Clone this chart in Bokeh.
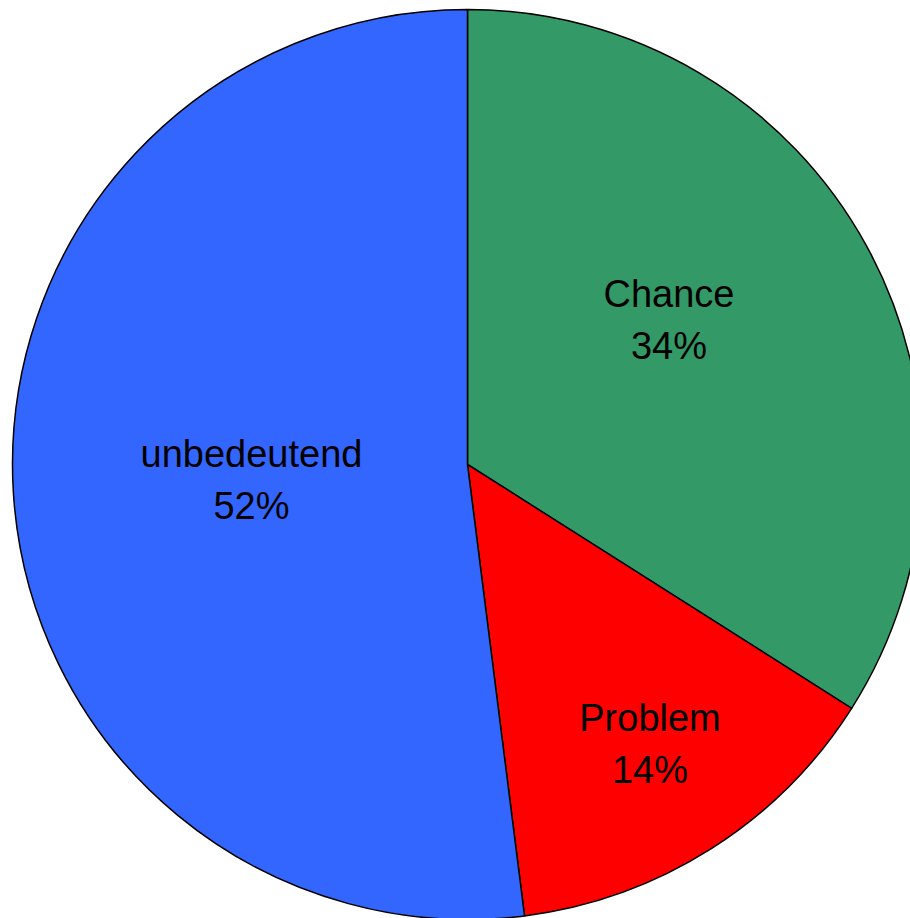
import math

from bokeh.core.properties import value
from bokeh.embed import file_html
from bokeh.models import ColumnDataSource, Range1d
from bokeh.plotting import figure
from bokeh.resources import INLINE

# Share of answers per category (percent), in drawing order clockwise from 12 o'clock
categories = ["Chance", "Problem", "unbedeutend"]
shares = [34, 14, 52]
colors = ["#339966", "#FF0000", "#3366FF"]

W, H = 910, 918

# Pie geometry in screen pixels (y measured downward from the top)
CX, CY, R = 467, 464, 455
# Label block centres (screen pixels) and spacing between the two text lines
label_pos = [(668.5, 319), (649.5, 743.5), (251, 479)]
LINE_GAP = 26

total = float(sum(shares))
starts, ends = [], []
cum = 0.0
for s in shares:
    starts.append(math.pi / 2 - 2 * math.pi * cum / total)
    cum += s
    ends.append(math.pi / 2 - 2 * math.pi * cum / total)

wedges = ColumnDataSource(dict(
    x=[CX] * len(shares),
    y=[H - CY] * len(shares),
    start=starts,
    end=ends,
    color=colors,
))

p = figure(
    width=W, height=H,
    x_range=Range1d(0, W), y_range=Range1d(0, H),
    output_backend="svg", toolbar_location=None,
    min_border=0, min_border_left=0, min_border_right=0,
    min_border_top=0, min_border_bottom=0,
)
p.axis.visible = False
p.grid.visible = False
p.outline_line_color = None
p.background_fill_color = "white"
p.border_fill_color = "white"

p.wedge(
    x="x", y="y", radius=R, radius_units="data",
    start_angle="start", end_angle="end", direction="clock",
    fill_color="color", line_color="black", line_width=1.5,
    source=wedges,
)

names_src = ColumnDataSource(dict(
    x=[lx for lx, _ in label_pos],
    y=[H - (ly - LINE_GAP) for _, ly in label_pos],
    text=categories,
))
pct_src = ColumnDataSource(dict(
    x=[lx for lx, _ in label_pos],
    y=[H - (ly + LINE_GAP) for _, ly in label_pos],
    text=[f"{s}%" for s in shares],
))

for src in (names_src, pct_src):
    p.text(
        x="x", y="y", text="text", source=src,
        text_font=value("Liberation Sans"), text_font_size="38px",
        text_color="black", text_align="center", text_baseline="alphabetic",
    )

with open("out.html", "w") as f:
    f.write(file_html(p, INLINE))
